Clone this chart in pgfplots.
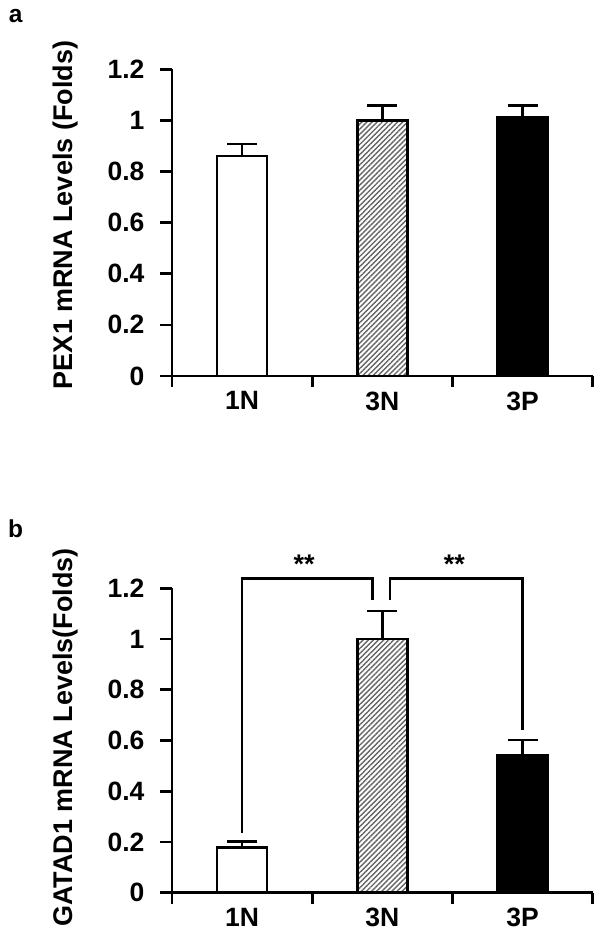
\documentclass[border=0pt]{standalone}
\usepackage{fontspec}
\setmainfont{Liberation Sans}
\usepackage{pgfplots}
\pgfplotsset{compat=1.18}
\usetikzlibrary{patterns.meta}

\pgfplotsset{
  panel/.style={
    scale only axis, width=420.7pt, anchor=south west,
    axis x line*=bottom, axis y line*=left,
    xmin=0.5, xmax=3.5, ymin=0, ymax=1.2,
    xtick={1,2,3}, xticklabels={1N,3N,3P},
    minor xtick={0.5,1.5,2.5,3.5},
    ytick={0,0.2,0.4,0.6,0.8,1,1.2},
    tick align=outside,
    major tick length=12pt, minor tick length=11pt,
    major x tick style={draw=none},
    every tick/.style={black, line width=2.7pt},
    axis line style={line width=2.7pt},
    /pgf/number format/assume math mode=true,
    tick label style={font=\fontsize{26.5}{26.5}\selectfont\bfseries},
    yticklabel style={xshift=-12pt},
    ylabel style={font=\fontsize{27}{27}\selectfont\bfseries},
    clip=false,
  },
  err/.style={error bars/.cd, y dir=plus, y explicit,
    error bar style={line width=2.7pt},
    error mark options={rotate=90, mark size=15pt, line width=2.7pt}},
  white bar/.style={ybar, bar width=50pt, bar shift=0pt, fill=white, draw=black, line width=2.7pt, err},
  hatch bar/.style={ybar, bar width=50pt, bar shift=0pt, preaction={fill=white},
    pattern={Lines[angle=45, distance=3.6pt, line width=1.4pt]}, pattern color=black!60,
    draw=black, line width=2.7pt, err},
  black bar/.style={ybar, bar width=50pt, bar shift=0pt, fill=black, draw=black, line width=2.7pt, err},
}

\begin{document}
\begin{tikzpicture}[x=1pt, y=1pt]
\path[use as bounding box] (0,0) rectangle (601,937);

\node[font=\fontsize{24.5}{24.5}\selectfont\bfseries] at (15.8,920.7) {a};
\node[font=\fontsize{24.5}{24.5}\selectfont\bfseries] at (15.5,408) {b};

% panel a
\begin{axis}[panel, at={(172pt,561pt)}, height=306.7pt,
  ylabel={PEX1 mRNA Levels (Folds)},
  ylabel style={at={(axis description cs:-0.253,0.525)}, anchor=center}]
\addplot[white bar] coordinates {(1,0.861) +- (0,0.047)};
\addplot[hatch bar] coordinates {(2,0.999) +- (0,0.059)};
\addplot[black bar] coordinates {(3,1.012) +- (0,0.046)};
\end{axis}

% panel b
\begin{axis}[panel, at={(172pt,44.3pt)}, height=304.4pt,
  ylabel={GATAD1 mRNA Levels(Folds)},
  ylabel style={at={(axis description cs:-0.253,0.51)}, anchor=center}]
\addplot[white bar] coordinates {(1,0.177) +- (0,0.024)};
\addplot[hatch bar] coordinates {(2,1.000) +- (0,0.111)};
\addplot[black bar] coordinates {(3,0.543) +- (0,0.059)};
\draw[line width=2.2pt] (axis cs:1,0.234) -- (axis cs:1,1.239) -- (axis cs:1.93,1.239) -- (axis cs:1.93,1.154);
\draw[line width=2.2pt] (axis cs:2.052,1.154) -- (axis cs:2.052,1.239) -- (axis cs:3,1.239) -- (axis cs:3,0.641);
\node[font=\fontsize{27}{27}\selectfont\bfseries, yshift=-4pt] at (axis cs:1.443,1.309) {**};
\node[font=\fontsize{27}{27}\selectfont\bfseries, yshift=-4pt] at (axis cs:2.514,1.309) {**};
\end{axis}
\end{tikzpicture}
\end{document}
